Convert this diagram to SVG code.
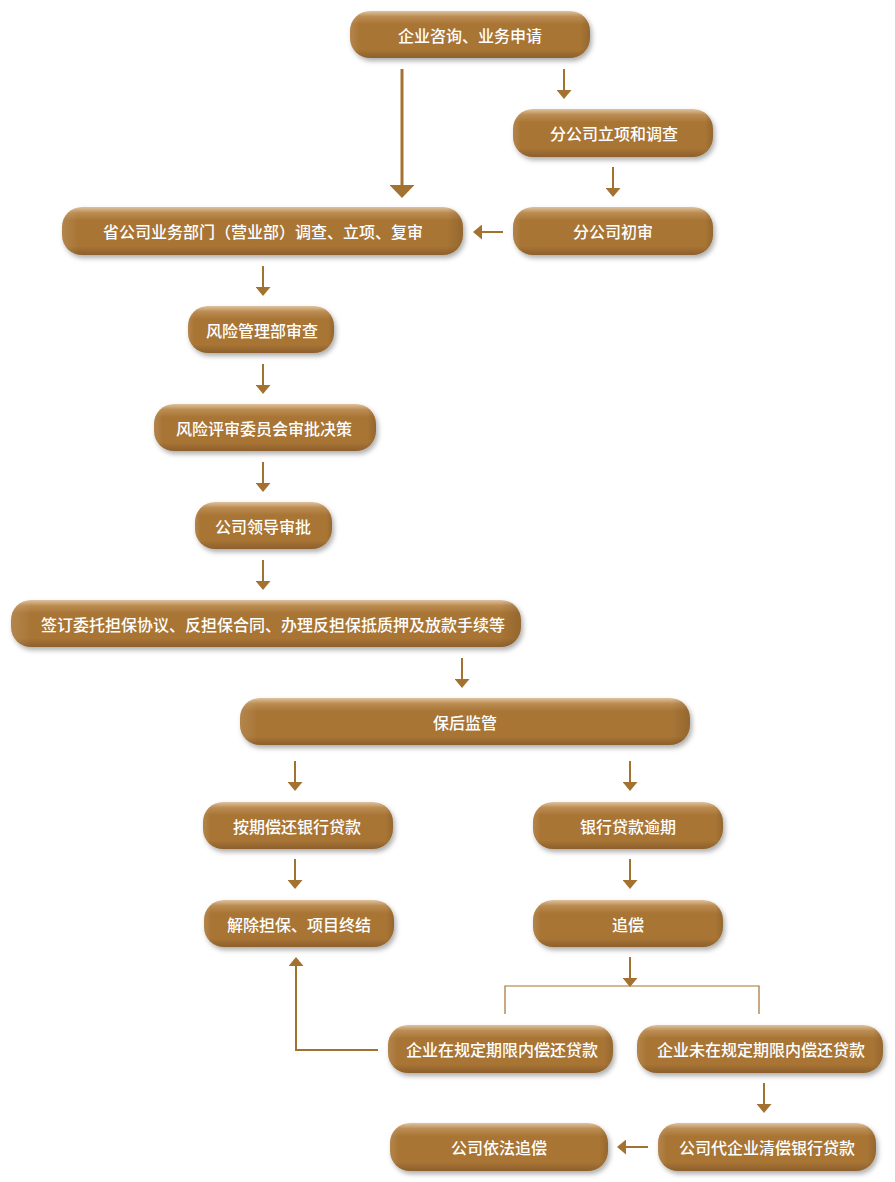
<svg xmlns="http://www.w3.org/2000/svg" width="895" height="1182" viewBox="0 0 895 1182">
<defs>
<linearGradient id="gv" x1="0" y1="0" x2="0" y2="1">
<stop offset="0" stop-color="#dec3a0"/>
<stop offset="0.12" stop-color="#bb8c52"/>
<stop offset="0.28" stop-color="#a97535"/>
<stop offset="0.82" stop-color="#a87434"/>
<stop offset="1" stop-color="#8c602d"/>
</linearGradient>
<linearGradient id="gh" x1="0" y1="0" x2="1" y2="0">
<stop offset="0" stop-color="#ffffff" stop-opacity="0.12"/>
<stop offset="0.04" stop-color="#ffffff" stop-opacity="0"/>
<stop offset="0.96" stop-color="#000000" stop-opacity="0"/>
<stop offset="1" stop-color="#000000" stop-opacity="0.12"/>
</linearGradient>
<filter id="sh" x="-10%" y="-30%" width="125%" height="180%">
<feDropShadow dx="2" dy="3" stdDeviation="2.5" flood-color="#000" flood-opacity="0.32"/>
</filter>
<marker id="ah" markerUnits="userSpaceOnUse" markerWidth="9" markerHeight="15" refX="5" refY="7.5" orient="auto">
<path d="M0,0 L9,7.5 L0,15 z" fill="#a47230"/>
</marker>
<marker id="ahBig" markerUnits="userSpaceOnUse" markerWidth="13" markerHeight="25" refX="7" refY="12.5" orient="auto">
<path d="M0,0 L13,12.5 L0,25 z" fill="#a47230"/>
</marker>
</defs>
<style>
.box{fill:url(#gv);filter:url(#sh)}
.ov{fill:url(#gh)}
.t{font-family:"Microsoft YaHei","Noto Sans CJK SC","Noto Sans",sans-serif;font-size:16px;fill:#ffffff;text-anchor:middle;dominant-baseline:central;font-weight:500}
.c{stroke:#a47230;stroke-width:2;fill:none;marker-end:url(#ah)}
.cb{stroke:#a47230;stroke-width:3;fill:none;marker-end:url(#ahBig)}
.br{stroke:#a47230;stroke-width:1.2;fill:none}
</style>
<g id="connectors">
<line class="cb" x1="402" y1="69" x2="402" y2="192"/>
<line class="c" x1="564" y1="69" x2="564" y2="95"/>
<line class="c" x1="613" y1="167" x2="613" y2="193"/>
<line class="c" x1="503" y1="232" x2="477" y2="232"/>
<line class="c" x1="263" y1="266" x2="263" y2="292"/>
<line class="c" x1="263" y1="364" x2="263" y2="390"/>
<line class="c" x1="263" y1="462" x2="263" y2="488"/>
<line class="c" x1="263" y1="560" x2="263" y2="586"/>
<line class="c" x1="462" y1="658" x2="462" y2="684"/>
<line class="c" x1="295" y1="761" x2="295" y2="787"/>
<line class="c" x1="630" y1="761" x2="630" y2="787"/>
<line class="c" x1="295" y1="859" x2="295" y2="885"/>
<line class="c" x1="630" y1="859" x2="630" y2="885"/>
<line class="c" x1="630" y1="957" x2="630" y2="983"/>
<polyline class="br" points="505,1014 505,986 759,986 759,1014"/>
<polyline class="c" points="378,1050 296,1050 296,961"/>
<line class="c" x1="764" y1="1083" x2="764" y2="1109"/>
<line class="c" x1="648" y1="1147" x2="621" y2="1147"/>
</g>
<g id="n1"><rect class="box" x="350" y="11" width="240" height="47" rx="20"/><rect class="ov" x="350" y="11" width="240" height="47" rx="20"/><text class="t" x="470" y="35">企业咨询、业务申请</text></g>
<g id="n2"><rect class="box" x="513" y="109" width="200" height="48" rx="20"/><rect class="ov" x="513" y="109" width="200" height="48" rx="20"/><text class="t" x="614" y="133">分公司立项和调查</text></g>
<g id="n3"><rect class="box" x="513" y="207" width="200" height="48" rx="20"/><rect class="ov" x="513" y="207" width="200" height="48" rx="20"/><text class="t" x="613" y="231">分公司初审</text></g>
<g id="n4"><rect class="box" x="62" y="207" width="401" height="48" rx="20"/><rect class="ov" x="62" y="207" width="401" height="48" rx="20"/><text class="t" x="263" y="231">省公司业务部门（营业部）调查、立项、复审</text></g>
<g id="n5"><rect class="box" x="188" y="306" width="146" height="47" rx="20"/><rect class="ov" x="188" y="306" width="146" height="47" rx="20"/><text class="t" x="262" y="330">风险管理部审查</text></g>
<g id="n6"><rect class="box" x="154" y="404" width="222" height="47" rx="20"/><rect class="ov" x="154" y="404" width="222" height="47" rx="20"/><text class="t" x="264" y="428">风险评审委员会审批决策</text></g>
<g id="n7"><rect class="box" x="195" y="502" width="137" height="47" rx="20"/><rect class="ov" x="195" y="502" width="137" height="47" rx="20"/><text class="t" x="263" y="526">公司领导审批</text></g>
<g id="n8"><rect class="box" x="11" y="600" width="510" height="47" rx="20"/><rect class="ov" x="11" y="600" width="510" height="47" rx="20"/><text class="t" x="273" y="624">签订委托担保协议、反担保合同、办理反担保抵质押及放款手续等</text></g>
<g id="n9"><rect class="box" x="240" y="698" width="450" height="47" rx="20"/><rect class="ov" x="240" y="698" width="450" height="47" rx="20"/><text class="t" x="465" y="722">保后监管</text></g>
<g id="n10"><rect class="box" x="203" y="802" width="190" height="47" rx="20"/><rect class="ov" x="203" y="802" width="190" height="47" rx="20"/><text class="t" x="297" y="826">按期偿还银行贷款</text></g>
<g id="n11"><rect class="box" x="533" y="802" width="190" height="47" rx="20"/><rect class="ov" x="533" y="802" width="190" height="47" rx="20"/><text class="t" x="628" y="826">银行贷款逾期</text></g>
<g id="n12"><rect class="box" x="204" y="900" width="190" height="47" rx="20"/><rect class="ov" x="204" y="900" width="190" height="47" rx="20"/><text class="t" x="299" y="924">解除担保、项目终结</text></g>
<g id="n13"><rect class="box" x="533" y="900" width="190" height="47" rx="20"/><rect class="ov" x="533" y="900" width="190" height="47" rx="20"/><text class="t" x="628" y="924">追偿</text></g>
<g id="n14"><rect class="box" x="388" y="1025" width="225" height="48" rx="20"/><rect class="ov" x="388" y="1025" width="225" height="48" rx="20"/><text class="t" x="502" y="1049">企业在规定期限内偿还贷款</text></g>
<g id="n15"><rect class="box" x="637" y="1025" width="246" height="48" rx="20"/><rect class="ov" x="637" y="1025" width="246" height="48" rx="20"/><text class="t" x="761" y="1049">企业未在规定期限内偿还贷款</text></g>
<g id="n16"><rect class="box" x="390" y="1123" width="218" height="48" rx="20"/><rect class="ov" x="390" y="1123" width="218" height="48" rx="20"/><text class="t" x="499" y="1147">公司依法追偿</text></g>
<g id="n17"><rect class="box" x="658" y="1123" width="218" height="48" rx="20"/><rect class="ov" x="658" y="1123" width="218" height="48" rx="20"/><text class="t" x="767" y="1147">公司代企业清偿银行贷款</text></g>
</svg>
